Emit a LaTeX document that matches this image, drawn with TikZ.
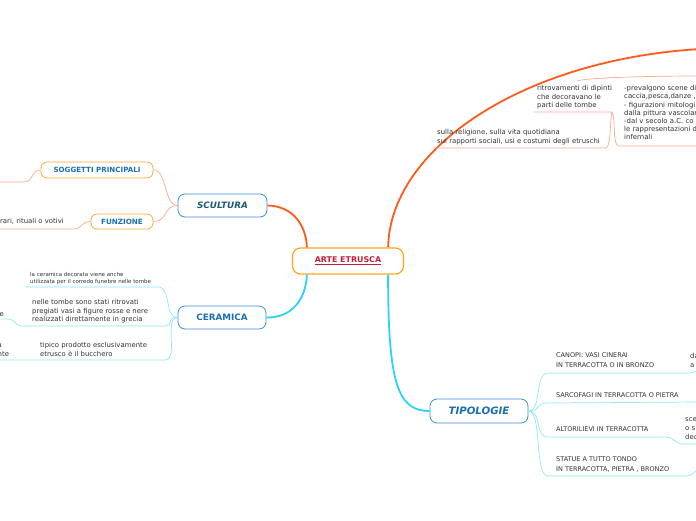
\documentclass[tikz,border=0pt]{standalone}
\usepackage{fontspec}
\setmainfont{DejaVu Sans}
\usetikzlibrary{calc}

\definecolor{branchorange}{HTML}{FF5A1A}
\definecolor{thinorange}{HTML}{F9AA8C}
\definecolor{branchcyan}{HTML}{2AD3F7}
\definecolor{thincyan}{HTML}{90E6F9}
\definecolor{boxblue}{HTML}{3A8ED6}
\definecolor{boxorange}{HTML}{F7A937}
\definecolor{rootorange}{HTML}{FFA520}
\definecolor{rootred}{HTML}{C41E3A}
\definecolor{sculturatext}{HTML}{1D5B70}
\definecolor{labelblue}{HTML}{1B6FAF}
\definecolor{leaftext}{HTML}{333333}

\begin{document}
\begin{tikzpicture}[
    x=1pt,y=-1pt,
    root/.style={draw=rootorange,line width=1.2pt,fill=white,rounded corners=8pt,
        minimum width=111pt,minimum height=26pt,text=rootred,
        font=\bfseries\fontsize{7.9}{9}\selectfont},
    mainbox/.style={draw=boxblue,line width=0.8pt,fill=white,rounded corners=7pt,
        minimum width=89pt,minimum height=23pt,text=labelblue,
        font=\bfseries\fontsize{8.8}{10}\selectfont},
    subbox/.style={draw=boxorange,line width=0.8pt,fill=white,rounded corners=6pt,
        minimum height=16pt,text=labelblue,inner sep=2pt,
        font=\bfseries\fontsize{7.1}{8}\selectfont},
    leaf/.style={inner sep=0pt,anchor=south west,align=left,text depth=0pt,
        text=leaftext,font=\fontsize{6.9}{8.5}\selectfont},
    caps/.style={leaf,font=\fontsize{6.5}{9.5}\selectfont},
    tiny/.style={leaf,font=\fontsize{5.5}{6.5}\selectfont},
    orangemain/.style={draw=branchorange,line width=1.8pt},
    cyanmain/.style={draw=branchcyan,line width=1.8pt},
    orangethin/.style={draw=thinorange,line width=0.7pt},
    cyanthin/.style={draw=thincyan,line width=0.7pt},
]
\clip (0,0) rectangle (696,520);
\fill[white] (0,0) rectangle (696,520);

%----------------------------------
% Main nodes
%----------------------------------

\node[root] (arte) at (348,261) {\underline{ARTE ETRUSCA}};

\node[mainbox,text=sculturatext] (scultura) at (222.5,205.5) {\itshape SCULTURA};
\node[mainbox,minimum width=88pt] (ceramica) at (222,317.5) {CERAMICA};
\node[mainbox,minimum width=98pt,minimum height=24pt,
    font=\bfseries\itshape\fontsize{10.2}{12}\selectfont] (tipologie) at (479,411) {TIPOLOGIE};

\node[subbox,minimum width=112pt] (soggetti) at (97,170) {SOGGETTI PRINCIPALI};
\node[subbox,minimum width=62pt,minimum height=15pt,
    font=\bfseries\fontsize{7.2}{8}\selectfont] (funzione) at (122,221.5) {FUNZIONE};

\coordinate (arcend) at (700,49);

\draw[orangemain] (scultura.east) .. controls (293,206) and (306,225) .. ([xshift=15pt]arte.north west);
\draw[cyanmain] ([xshift=15pt]arte.south west) .. controls (306,298) and (293,318) .. (ceramica.east);
\draw[cyanmain] ([xshift=-16pt]arte.south east) .. controls (388,385) and (398,411) .. (tipologie.west);
\draw[orangemain] ([xshift=-16pt]arte.north east) .. controls (390,150) and (520,60) .. (arcend);

%----------------------------------
% Upper right branch
%----------------------------------

\coordinate (reliL) at (433,148);
\coordinate (reliR) at (606,148);
\coordinate (ritroL) at (533,112);
\coordinate (ritroR) at (612,112);
\coordinate (preL) at (619,146);
\coordinate (preR) at (700,146);
\coordinate (topL) at (577,81);
\coordinate (topR) at (700,76);

\node[leaf] (religione) at (437,143.6) {sulla religione, sulla vita quotidiana\\sui rapporti sociali, usi e costumi degli etruschi};
\node[leaf] (ritrovamenti) at (537,107.9) {ritrovamenti di dipinti\\che decoravano le\\parti delle tombe};
\node[leaf,font=\fontsize{6.9}{8.2}\selectfont] (prevalgono) at (624,140) {-prevalgono scene di\\caccia,pesca,danze ,\\- figurazioni mitologi\\dalla pittura vascolar\\-dal v secolo a.C. co\\le rappresentazioni d\\infernali};

\draw[orangethin] (reliL) -- (reliR) .. controls (611,147) and (610,118) .. (ritroR);
\draw[orangethin] (ritroL) -- (ritroR) .. controls (616,118) and (612,146) .. (preL) -- (preR);
\draw[orangethin] (topL) .. controls (585,78) and (640,76) .. (topR);

%----------------------------------
% Tipologie
%----------------------------------

\coordinate (canopiL) at (548,373);
\coordinate (canopiR) at (688,373);
\coordinate (canopiEnd) at (700,371);
\coordinate (sarcoL) at (548,403);
\coordinate (sarcoEnd) at (700,402);
\coordinate (altoL) at (548,437);
\coordinate (altoR) at (665,437);
\coordinate (altoM) at (684,444);
\coordinate (altoEnd) at (700,444);
\coordinate (statueL) at (548,476);
\coordinate (statueR) at (687,476);
\coordinate (statueEnd) at (700,470);

\node[caps] (canopi) at (556,367.3) {CANOPI: VASI CINERAI\\IN TERRACOTTA O IN BRONZO};
\node[leaf,font=\fontsize{6.9}{9.5}\selectfont] (canopichild) at (690,368) {da\\a};
\node[caps] (sarcofagi) at (556,397.3) {SARCOFAGI IN TERRACOTTA O PIETRA};
\node[caps] (altorilievi) at (556,431.6) {ALTORILIEVI IN TERRACOTTA};
\node[leaf,font=\fontsize{6.9}{9}\selectfont] (altochild) at (685,440) {sce\\o s\\dec};
\node[caps,font=\fontsize{6.5}{10}\selectfont] (statue) at (556,471.3) {STATUE A TUTTO TONDO\\IN TERRACOTTA, PIETRA , BRONZO};

\draw[cyanthin] (tipologie.east) .. controls +(14,0) and +(-14,0) .. (canopiL) -- (canopiR) .. controls +(5,0) and +(-5,0) .. (canopiEnd);
\draw[cyanthin] (tipologie.east) .. controls +(14,0) and +(-14,0) .. (sarcoL) -- (sarcoEnd);
\draw[cyanthin] (tipologie.east) .. controls +(14,0) and +(-14,0) .. (altoL) -- (altoR) .. controls +(10,0) and +(-10,0) .. (altoM) -- (altoEnd);
\draw[cyanthin] (tipologie.east) .. controls +(14,0) and +(-14,0) .. (statueL) -- (statueR) .. controls +(6,0) and +(-6,0) .. (statueEnd);

%----------------------------------
% Scultura
%----------------------------------

\coordinate (sogL) at (24,182);
\coordinate (sogEnd) at (-5,182);
\coordinate (funL) at (73,229);
\coordinate (funEnd) at (-5,229);

\node[leaf,anchor=south east] (funzionetext) at (64,224) {erari, rituali o votivi};

\draw[orangethin] (scultura.west) .. controls +(-14,0) and +(14,0) .. (soggetti.east);
\draw[orangethin] (scultura.west) .. controls +(-14,0) and +(14,0) .. (funzione.east);
\draw[orangethin] (soggetti.west) .. controls +(-10,0) and +(10,0) .. (sogL) -- (sogEnd);
\draw[orangethin] (funzione.west) .. controls +(-10,0) and +(10,0) .. (funL) -- (funEnd);

%----------------------------------
% Ceramica
%----------------------------------

\coordinate (corredoR) at (158,287);
\coordinate (corredoL) at (25,287);
\coordinate (vasiR) at (163,326);
\coordinate (vasiL) at (22,326);
\coordinate (vasichildR) at (8,319);
\coordinate (vasiEnd) at (-5,319);
\coordinate (buccheroR) at (165,360);
\coordinate (buccheroEnd) at (-5,360);

\node[tiny] (corredo) at (30,283.5) {la ceramica decorata viene anche\\utilizzata per il corredo funebre nelle tombe};
\node[leaf] (vasi) at (32,322) {nelle tombe sono stati ritrovati\\pregiati vasi a figure rosse e nere\\realizzati direttamente in grecia};
\node[leaf,anchor=south east] (vasichild) at (4,317) {e};
\node[leaf] (bucchero) at (40,356.2) {tipico prodotto esclusivamente\\etrusco è il bucchero};
\node[leaf] (buccherochild) at (-2.5,356.2) {a\\nte};

\draw[cyanthin] (ceramica.west) .. controls +(-14,0) and +(14,0) .. (corredoR) -- (corredoL);
\draw[cyanthin] (ceramica.west) .. controls +(-14,0) and +(14,0) .. (vasiR) -- (vasiL) .. controls +(-7,0) and +(7,0) .. (vasichildR) -- (vasiEnd);
\draw[cyanthin] (ceramica.west) .. controls +(-14,0) and +(14,0) .. (buccheroR) -- (buccheroEnd);

\end{tikzpicture}
\end{document}
